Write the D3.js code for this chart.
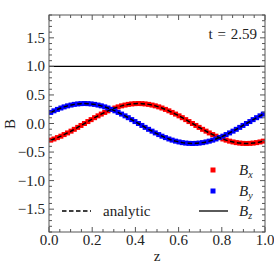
<!DOCTYPE html>
<html><head><meta charset="utf-8">
<script src="https://cdn.jsdelivr.net/npm/d3@7"></script>
<style>body{margin:0;background:#fff}svg{display:block}text{font-family:"Liberation Serif","DejaVu Serif",serif;fill:#222}</style>
</head><body><div id="c"></div>
<script>
const zVals=[0.008,0.023,0.039,0.055,0.070,0.086,0.102,0.117,0.133,0.148,0.164,0.180,0.195,0.211,0.227,0.242,0.258,0.273,0.289,0.305,0.320,0.336,0.352,0.367,0.383,0.398,0.414,0.430,0.445,0.461,0.477,0.492,0.508,0.523,0.539,0.555,0.570,0.586,0.602,0.617,0.633,0.648,0.664,0.680,0.695,0.711,0.727,0.742,0.758,0.773,0.789,0.805,0.820,0.836,0.852,0.867,0.883,0.898,0.914,0.930,0.945,0.961,0.977,0.992];
const bxVals=[-0.291,-0.271,-0.247,-0.222,-0.194,-0.165,-0.134,-0.102,-0.068,-0.034,0,0.034,0.068,0.102,0.134,0.165,0.194,0.222,0.247,0.271,0.291,0.309,0.323,0.335,0.343,0.348,0.350,0.348,0.343,0.335,0.323,0.309,0.291,0.271,0.247,0.222,0.194,0.165,0.134,0.102,0.068,0.034,0,-0.034,-0.068,-0.102,-0.134,-0.165,-0.194,-0.222,-0.247,-0.271,-0.291,-0.309,-0.323,-0.335,-0.343,-0.348,-0.350,-0.348,-0.343,-0.335,-0.323,-0.309];
const byVals=[0.194,0.222,0.247,0.271,0.291,0.309,0.323,0.335,0.343,0.348,0.350,0.348,0.343,0.335,0.323,0.309,0.291,0.271,0.247,0.222,0.194,0.165,0.134,0.102,0.068,0.034,0,-0.034,-0.068,-0.102,-0.134,-0.165,-0.194,-0.222,-0.247,-0.271,-0.291,-0.309,-0.323,-0.335,-0.343,-0.348,-0.350,-0.348,-0.343,-0.335,-0.323,-0.309,-0.291,-0.271,-0.247,-0.222,-0.194,-0.165,-0.134,-0.102,-0.068,-0.034,0,0.034,0.068,0.102,0.134,0.165];
const bzValue=1.0;
const xTicks=[0,0.2,0.4,0.6,0.8,1.0];
const yTicks=[-1.5,-1.0,-0.5,0,0.5,1.0,1.5];
const timeLabel="t = 2.59";

const W=274,H=274,L=49,R=265,T=15,B=232,FS=15;
const svg=d3.select("#c").append("svg").attr("width",W).attr("height",H);
const x=d3.scaleLinear().domain([0,1]).range([L,R]);
const y=d3.scaleLinear().domain([-1.9,1.9]).range([B,T]);
svg.append("clipPath").attr("id","cl").append("rect").attr("x",L).attr("y",T).attr("width",R-L).attr("height",B-T);
const g=svg.append("g").attr("clip-path","url(#cl)");
const fmt=v=>(v<0?"\u2212":"")+Math.abs(v).toFixed(1);

g.append("line").attr("x1",L).attr("x2",R).attr("y1",y(bzValue)).attr("y2",y(bzValue)).attr("stroke","#000").attr("stroke-width",1.3);
const ms=5;
const data=zVals.map((z,i)=>({z,bx:bxVals[i],by:byVals[i]}));
g.selectAll(".bx").data(data).enter().append("rect").attr("x",d=>x(d.z)-ms/2).attr("y",d=>y(d.bx)-ms/2).attr("width",ms).attr("height",ms).attr("fill","#f00");
g.selectAll(".by").data(data).enter().append("rect").attr("x",d=>x(d.z)-ms/2).attr("y",d=>y(d.by)-ms/2).attr("width",ms).attr("height",ms).attr("fill","#00f");
const line=k=>d3.line().x(d=>x(d.z)).y(d=>y(d[k])).curve(d3.curveNatural);
["bx","by"].forEach(k=>g.append("path").datum(data).attr("d",line(k)).attr("fill","none").attr("stroke","#000").attr("stroke-width",1.5).attr("stroke-dasharray","4.5,2.5"));

const ax=svg.append("g").attr("stroke","#555").attr("stroke-width",1);
ax.append("rect").attr("x",L).attr("y",T).attr("width",R-L).attr("height",B-T).attr("fill","none");
const xMinor=d3.range(0,1.0001,0.05), yMinor=d3.range(-1.9,1.9001,0.1);
xMinor.forEach(v=>{const maj=Math.abs(v*5-Math.round(v*5))<1e-6;const l=maj?5:3;
 ax.append("line").attr("x1",x(v)).attr("x2",x(v)).attr("y1",B).attr("y2",B-l);
 ax.append("line").attr("x1",x(v)).attr("x2",x(v)).attr("y1",T).attr("y2",T+l);});
yMinor.forEach(v=>{const maj=Math.abs(v*2-Math.round(v*2))<1e-6;const l=maj?5:3;
 ax.append("line").attr("x1",L).attr("x2",L+l).attr("y1",y(v)).attr("y2",y(v));
 ax.append("line").attr("x1",R).attr("x2",R-l).attr("y1",y(v)).attr("y2",y(v));});
xTicks.forEach(v=>svg.append("text").attr("x",x(v)).attr("y",245).attr("text-anchor","middle").attr("font-size",FS).text(v.toFixed(1)));
yTicks.forEach(v=>svg.append("text").attr("x",45).attr("y",y(v)+5).attr("text-anchor","end").attr("font-size",FS).text(fmt(v)));
svg.append("text").attr("x",157).attr("y",261).attr("text-anchor","middle").attr("font-size",FS).text("z");
svg.append("text").attr("transform","translate(15,124) rotate(-90)").attr("text-anchor","middle").attr("font-size",FS).text("B");
svg.append("text").attr("x",257).attr("y",39).attr("text-anchor","end").attr("font-size",FS).attr("word-spacing",1).text(timeLabel);

svg.append("line").attr("x1",62).attr("x2",91).attr("y1",211).attr("y2",211).attr("stroke","#000").attr("stroke-width",1.5).attr("stroke-dasharray","4.5,2.5");
svg.append("text").attr("x",103).attr("y",216).attr("font-size",FS).text("analytic");
svg.append("rect").attr("x",210.5).attr("y",167.5).attr("width",ms).attr("height",ms).attr("fill","#f00");
svg.append("rect").attr("x",210.5).attr("y",188.5).attr("width",ms).attr("height",ms).attr("fill","#00f");
svg.append("line").attr("x1",199).attr("x2",228).attr("y1",211).attr("y2",211).attr("stroke","#000").attr("stroke-width",1.3);
[["x",175],["y",196],["z",216]].forEach(([s,yy])=>{const t=svg.append("text").attr("x",239).attr("y",yy).attr("font-size",FS).attr("font-style","italic");
 t.append("tspan").text("B");t.append("tspan").attr("font-size",10).attr("dy",3).text(s);});
</script></body></html>
